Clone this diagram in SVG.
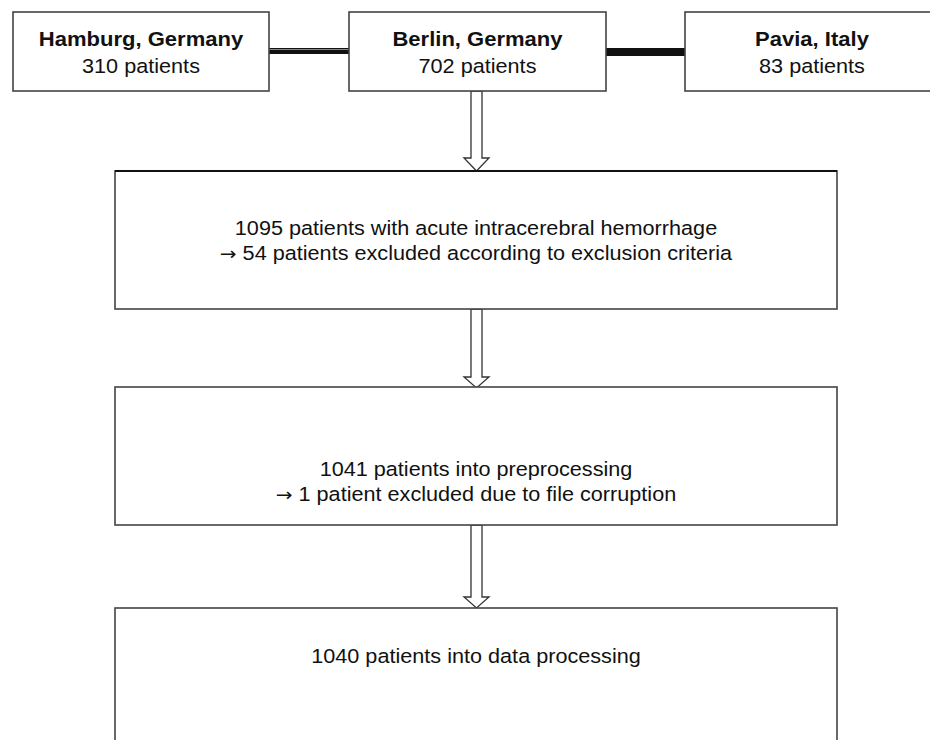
<svg xmlns="http://www.w3.org/2000/svg" width="930" height="740" viewBox="0 0 930 740">
<style>
.box{fill:#fff;stroke:#444;stroke-width:1.6}
.t{font-family:"Liberation Sans",Arial,sans-serif;font-size:19.5px;fill:#111;text-anchor:middle}
.b{font-weight:bold}
.ar{font-family:"DejaVu Sans",sans-serif;font-size:18px}
.arr{fill:#fff;stroke:#333;stroke-width:1.3;stroke-linejoin:miter}
</style>
<rect width="930" height="740" fill="#fff"/>
<g id="connectors">
<rect x="269" y="48" width="80" height="6" fill="#111"/>
<line x1="269" y1="49.5" x2="349" y2="49.5" stroke="#888" stroke-width="1"/>
<rect x="606" y="48" width="79" height="8" fill="#111"/>
<polygon class="arr" points="471,91 471,158 464,158 476.5,171 489,158 482,158 482,91"/>
<polygon class="arr" points="471,309 471,377 464,377 476.5,388 489,377 482,377 482,309"/>
<polygon class="arr" points="471,525 471,597 464,597 476.5,608 489,597 482,597 482,525"/>
</g>
<g id="hamburg">
<rect class="box" x="13" y="12" width="256" height="79"/>
<text class="t b" transform="translate(141,46) scale(1.13,1)">Hamburg, Germany</text>
<text class="t" transform="translate(141,73) scale(1.11,1)">310 patients</text>
</g>
<g id="berlin">
<rect class="box" x="349" y="12" width="257" height="79"/>
<text class="t b" transform="translate(477.5,46) scale(1.13,1)">Berlin, Germany</text>
<text class="t" transform="translate(477.5,73) scale(1.11,1)">702 patients</text>
</g>
<g id="pavia">
<rect class="box" x="685" y="12" width="260" height="79"/>
<text class="t b" transform="translate(812,46) scale(1.13,1)">Pavia, Italy</text>
<text class="t" transform="translate(812,73) scale(1.11,1)">83 patients</text>
</g>
<g id="ich">
<rect class="box" x="115" y="171" width="722" height="138"/>
<line x1="115" y1="171" x2="837" y2="171" stroke="#111" stroke-width="2.2"/>
<text class="t" transform="translate(476,235) scale(1.11,1)">1095 patients with acute intracerebral hemorrhage</text>
<text class="t" transform="translate(476,260) scale(1.11,1)"><tspan class="ar">→</tspan> 54 patients excluded according to exclusion criteria</text>
</g>
<g id="preprocessing">
<rect class="box" x="115" y="387" width="722" height="138"/>
<text class="t" transform="translate(476,476) scale(1.11,1)">1041 patients into preprocessing</text>
<text class="t" transform="translate(476,501) scale(1.11,1)"><tspan class="ar">→</tspan> 1 patient excluded due to file corruption</text>
</g>
<g id="dataprocessing">
<rect class="box" x="115" y="608" width="722" height="150"/>
<text class="t" transform="translate(476,663) scale(1.11,1)">1040 patients into data processing</text>
</g>
</svg>
